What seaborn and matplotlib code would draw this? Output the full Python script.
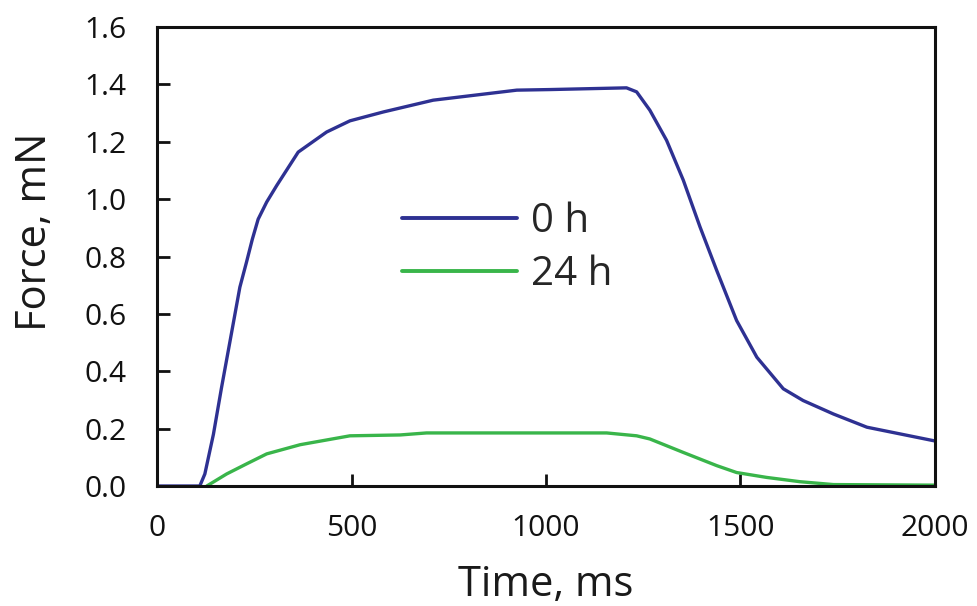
import matplotlib
matplotlib.use("Agg")
import matplotlib.pyplot as plt
import pandas as pd
import seaborn as sns

# 0 h curve (time in ms, force in mN)
time_0h = [0, 60, 100, 110, 123, 145, 166, 188, 213, 230, 245, 260, 282, 308, 363, 436,
           496, 582, 710, 925, 1010, 1207, 1233, 1267, 1310, 1353, 1396, 1439, 1490,
           1542, 1610, 1661, 1739, 1825, 2000]
force_0h = [0.0, 0.0, 0.0, 0.0, 0.042, 0.18, 0.344, 0.507, 0.693, 0.78, 0.86, 0.93, 0.99,
            1.048, 1.164, 1.234, 1.273, 1.304, 1.345, 1.38, 1.382, 1.388, 1.374, 1.31,
            1.205, 1.066, 0.903, 0.751, 0.577, 0.449, 0.339, 0.298, 0.251, 0.205, 0.157]

# 24 h curve
time_24h = [128, 179, 230, 282, 368, 496, 625, 693, 1010, 1156, 1233, 1267, 1353,
            1439, 1490, 1567, 1653, 1739, 2000]
force_24h = [0.0, 0.042, 0.077, 0.112, 0.144, 0.175, 0.178, 0.185, 0.185, 0.185,
             0.175, 0.164, 0.117, 0.071, 0.047, 0.03, 0.015, 0.005, 0.003]

labels = ["0 h", "24 h"]
colors = ["#2E3192", "#39B54A"]

df = pd.concat([
    pd.DataFrame({"Time": time_0h, "Force": force_0h, "Group": labels[0]}),
    pd.DataFrame({"Time": time_24h, "Force": force_24h, "Group": labels[1]}),
])

sns.set_theme(style="ticks")
plt.rcParams["font.family"] = ["Open Sans", "DejaVu Sans"]

fig, ax = plt.subplots(figsize=(9.77, 6.06), dpi=100)
fig.subplots_adjust(left=0.1607, right=0.957, top=0.9554, bottom=0.198)

sns.lineplot(data=df, x="Time", y="Force", hue="Group", palette=colors,
             linewidth=2.4, sort=False, ax=ax)

ax.set_xlim(0, 2000)
ax.set_ylim(0, 1.6)
ax.set_xticks([0, 500, 1000, 1500, 2000])
ax.set_yticks([0.0, 0.2, 0.4, 0.6, 0.8, 1.0, 1.2, 1.4, 1.6])
ax.set_yticklabels([f"{v:.1f}" for v in ax.get_yticks()])
ax.tick_params(axis="both", direction="in", length=9, width=2, labelsize=21.5,
               colors="#111111")
ax.tick_params(axis="x", pad=20)
ax.tick_params(axis="y", pad=22)

for spine in ax.spines.values():
    spine.set_linewidth(2.2)
    spine.set_color("#111111")

ax.set_xlabel("Time, ms", fontsize=30, color="#1a1a1a")
ax.set_ylabel("Force, mN", fontsize=30, color="#1a1a1a")
ax.xaxis.set_label_coords(0.5, -0.17)
ax.yaxis.set_label_coords(-0.13, 0.553)

leg = ax.legend(loc="center left", bbox_to_anchor=(0.268, 0.518), frameon=False,
                fontsize=29, handlelength=2.85, handletextpad=0.37,
                labelspacing=0.32)
for line in leg.get_lines():
    line.set_linewidth(2.8)

fig.savefig("out.png", dpi=100)
